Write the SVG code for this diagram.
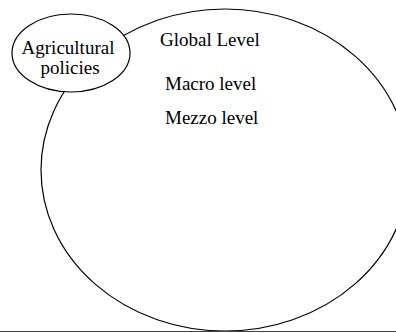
<svg xmlns="http://www.w3.org/2000/svg" width="396" height="333" viewBox="0 0 396 333">
<style>
.shape{fill:none;stroke:#000;stroke-width:1.2}
.t{font-family:"Liberation Serif";font-size:19px;fill:#000}
</style>
<rect width="396" height="333" fill="#fff"/>
<g id="levels">
<ellipse class="shape" cx="225" cy="170" rx="184" ry="161"/>
<text class="t" x="160" y="46">Global Level</text>
<text class="t" x="165" y="90">Macro level</text>
<text class="t" x="165" y="124">Mezzo level</text>
</g>
<g id="agricultural-policies">
<ellipse cx="71" cy="53" rx="59" ry="39" fill="#fff" stroke="#000" stroke-width="1.2"/>
<text class="t" x="68" y="54" text-anchor="middle">Agricultural</text>
<text class="t" x="70" y="74" text-anchor="middle">policies</text>
</g>
<g id="connectors"></g>
<line x1="0" y1="331.5" x2="396" y2="331.5" stroke="#444" stroke-width="1.2"/>
</svg>
